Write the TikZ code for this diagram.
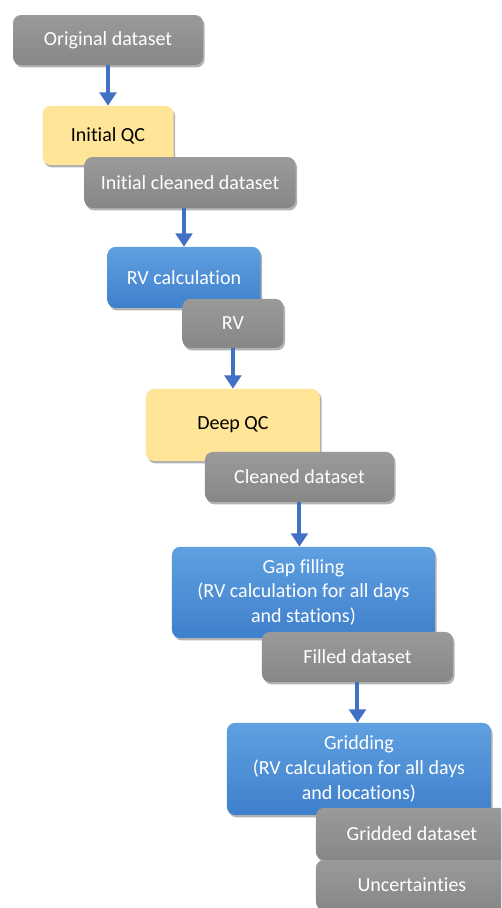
\documentclass[tikz,border=0pt]{standalone}
\usepackage{fontspec}
\setmainfont[Ligatures=NoCommon]{Carlito}
\usepackage{xcolor}
\usepackage{tikz}
\usetikzlibrary{positioning,shadows,arrows.meta}

\definecolor{graytop}{HTML}{9A9A9A}
\definecolor{graybot}{HTML}{878787}
\definecolor{bluetop}{HTML}{5FA0E0}
\definecolor{bluebot}{HTML}{3F80CC}
\definecolor{qcyellow}{HTML}{FFE597}
\definecolor{arrowblue}{HTML}{4270C4}

\begin{document}
\begin{tikzpicture}[on grid,
    box/.style={rectangle, rounded corners=6pt, inner sep=0pt, align=center,
      font=\fontsize{15}{18.4}\selectfont,
      drop shadow={shadow xshift=1.2pt, shadow yshift=-1.8pt, opacity=.3, fill=black}},
    datanode/.style={box, top color=graytop, bottom color=graybot, text=white},
    procnode/.style={box, top color=bluetop, bottom color=bluebot, text=white},
    qcnode/.style={box, fill=qcyellow, text=black},
    flow/.style={-{Triangle[width=12.5pt,length=10pt]}, line width=3pt, draw=arrowblue}]
   \useasboundingbox (0,0) rectangle (375.75pt,-681pt);
   \clip (0,0) rectangle (375.75pt,-681pt);
   \node[datanode, minimum width=142.5pt, minimum height=37.5pt] (orig) at (81pt,-30pt) {Original dataset};
   \node[qcnode, minimum width=98.25pt, minimum height=44.25pt] (iqc) [below=71.6pt of orig] {Initial QC};
   \node[datanode, minimum width=158.25pt, minimum height=38.25pt] (icd) [below right=35.3pt and 61.5pt of iqc] {Initial cleaned dataset};
   \node[procnode, minimum width=114.75pt, minimum height=45.75pt] (rvc) [below left=71.2pt and 4.5pt of icd] {RV calculation};
   \node[datanode, minimum width=75.75pt, minimum height=36.75pt] (rv) [below right=34.5pt and 36.7pt of rvc] {RV};
   \node[qcnode, minimum width=130.5pt, minimum height=54pt] (dqc) [below=76.1pt of rv] {Deep QC};
   \node[datanode, minimum width=141.75pt, minimum height=37.5pt] (cd) [below right=39pt and 49.9pt of dqc] {Cleaned dataset};
   \node[procnode, minimum width=197.25pt, minimum height=68.25pt] (gf) [below right=86.6pt and 3pt of cd] {Gap filling\\(RV calculation for all days\\and stations)};
   \node[datanode, minimum width=143.25pt, minimum height=37.5pt] (fd) [below right=48.4pt and 40.5pt of gf] {Filled dataset};
   \node[procnode, minimum width=198pt, minimum height=69pt] (gr) [below right=84pt and 1.1pt of fd] {Gridding\\(RV calculation for all days\\and locations)};
   \node[datanode, minimum width=144pt, minimum height=39pt] (gd) [below right=48.75pt and 39.75pt of gr] {Gridded dataset};
   \node[datanode, minimum width=144pt, minimum height=37.5pt] (un) [below=38.25pt of gd] {Uncertainties};
   % arrows between the steps
   \draw[flow] (orig.south) -- (orig.south |- iqc.north);
   \draw[flow] (rvc.north |- icd.south) -- (rvc.north);
   \draw[flow] (rv.south) -- (rv.south |- dqc.north);
   \draw[flow] (cd.south) -- (cd.south |- gf.north);
   \draw[flow] (fd.south) -- (fd.south |- gr.north);
\end{tikzpicture}
\end{document}
